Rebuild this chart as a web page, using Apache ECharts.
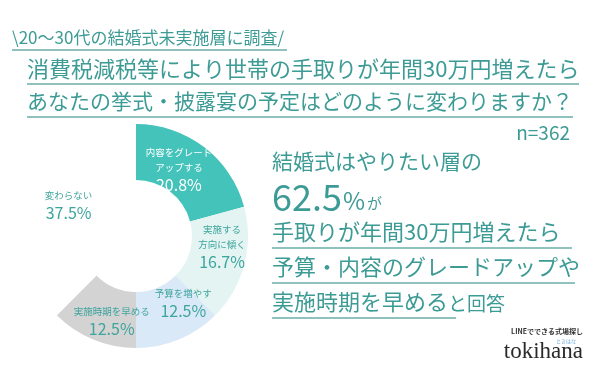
<!DOCTYPE html>
<html><head><meta charset="utf-8">
<script src="https://cdn.jsdelivr.net/npm/echarts@6/dist/echarts.min.js"></script>
<style>html,body{margin:0;padding:0;background:#fff}#c{width:600px;height:375px}</style>
</head><body><div id="c"></div>
<script>
// ---- data ----
const categories = ['内容をグレードアップする','実施する方向に傾く','予算を増やす','実施時期を早める','変わらない'];
const labelNames = ['内容をグレード\nアップする','実施する\n方向に傾く','予算を増やす','実施時期を早める','変わらない'];
const values = [20.8, 16.7, 12.5, 12.5, 37.5];
const titleLines = ['\\20～30代の結婚式未実施層に調査/','消費税減税等により世帯の手取りが年間30万円増えたら','あなたの挙式・披露宴の予定はどのように変わりますか？'];
const sampleText = 'n=362';
const headline = ['結婚式はやりたい層の','62.5','%','が','手取りが年間30万円増えたら','予算・内容のグレードアップや','実施時期を早める','と回答'];

// ---- styles ----
const sliceColors = ['#43c3ba','#e3f4f2','#dae9f8','#d3d3d3','#ffffff'];
const labelColors = ['#ffffff','#3ea49d','#3ea49d','#3ea49d','#3ea49d'];
const labelShift = [[-10,3],[2,-12],[14,-13],[9,5],[13,3]];

const TEAL = '#3d9b95';
const FONT = '"Noto Sans CJK JP","Noto Sans",sans-serif';
const chart = echarts.init(document.getElementById('c'), null, {renderer:'canvas'});

function t(x,y,text,size,opts){
  return {type:'text',x:x,y:y,style:Object.assign({text:text,fill:TEAL,font:'400 '+size+'px '+FONT,textVerticalAlign:'middle'},opts||{})};
}
function line(x1,x2,y){
  return {type:'line',shape:{x1:x1,y1:y,x2:x2,y2:y},style:{stroke:'#6aaea9',lineWidth:1.5}};
}

const graphics = [
  t(12,38,titleLines[0],17),
  line(12,287,50),
  t(27,69,titleLines[1],22),
  line(27,579,84),
  t(27,101,titleLines[2],21),
  line(27,573,117),
  t(570,133,sampleText,19,{textAlign:'right'}),
  t(272,161,headline[0],21),
  {type:'text',x:272,y:197,style:{text:'{a|'+headline[1]+'}{b|'+headline[2]+'}{c|'+headline[3]+'}',textVerticalAlign:'middle',
    rich:{a:{fontSize:36,fontFamily:FONT,fill:TEAL,verticalAlign:'bottom'},
          b:{fontSize:24,fontFamily:FONT,fill:TEAL,verticalAlign:'bottom',padding:[0,0,2,1]},
          c:{fontSize:15,fontFamily:FONT,fill:TEAL,verticalAlign:'bottom',padding:[0,0,4,2]}}}},
  t(272,232,headline[4],22),
  line(272,572,248),
  t(272,267,headline[5],22),
  line(272,575,283),
  {type:'text',x:272,y:302,style:{text:'{a|'+headline[6]+'}{b|'+headline[7]+'}',textVerticalAlign:'middle',
    rich:{a:{fontSize:22,fontFamily:FONT,fill:TEAL},b:{fontSize:19,fontFamily:FONT,fill:TEAL,verticalAlign:'bottom'}}}},
  line(272,456,318),
  t(583,331,'LINEでできる式場探し',7,{textAlign:'right',fill:'#333',font:'700 7px '+FONT}),
  t(566,341,'ときはな',5,{textAlign:'center',fill:'#6aa8d8'}),
  t(583,352,'tokihana',23,{textAlign:'right',fill:'#2a2a2a',font:'400 23px "Liberation Serif","DejaVu Serif",serif'})
];

chart.setOption({
  animation:false,
  backgroundColor:'#ffffff',
  graphic:graphics,
  series:[{
    type:'pie',
    center:[136,236],
    radius:[56,112],
    startAngle:90,
    clockwise:true,
    silent:true,
    avoidLabelOverlap:false,
    labelLine:{show:false},
    labelLayout:function(p){
      const s = labelShift[p.dataIndex];
      return {dx:s[0],dy:s[1],hideOverlap:false};
    },
    data:categories.map((name,i)=>({
      name:name,value:values[i],
      itemStyle:{color:sliceColors[i]},
      label:{
        show:true,position:'inside',
        formatter:'{n|'+labelNames[i].split('\n').join('}\n{n|')+'}\n{p|'+values[i].toFixed(1)+'%}',
        rich:{
          n:{fontSize:9.5,fontFamily:FONT,color:labelColors[i],lineHeight:15},
          p:{fontSize:16,fontFamily:FONT,color:labelColors[i],lineHeight:20}
        }
      }
    }))
  }]
});
</script></body></html>
